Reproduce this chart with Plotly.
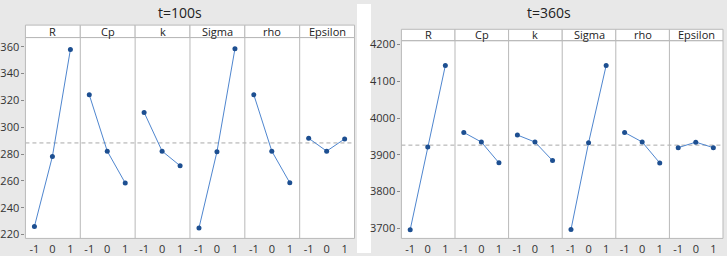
import plotly.graph_objects as go

W, H = 727, 256

factors = ["R", "Cp", "k", "Sigma", "rho", "Epsilon"]
levels = [-1, 0, 1]
level_labels = ["-1", "0", "1"]

# t=100s main effects (means at levels -1, 0, 1)
t100_R = [226.0, 278.2, 358.0]
t100_Cp = [324.2, 282.2, 258.4]
t100_k = [311.1, 282.2, 271.3]
t100_Sigma = [224.9, 281.7, 358.5]
t100_rho = [324.2, 282.2, 258.6]
t100_Epsilon = [291.8, 282.2, 291.3]
t100_mean = 288.3
t100_yticks = [220, 240, 260, 280, 300, 320, 340, 360]

# t=360s main effects
t360_R = [3696.6, 3921.4, 4142.9]
t360_Cp = [3961.0, 3934.9, 3878.3]
t360_k = [3954.0, 3934.9, 3884.4]
t360_Sigma = [3697.0, 3933.0, 4143.0]
t360_rho = [3961.0, 3935.0, 3878.0]
t360_Epsilon = [3919.6, 3934.6, 3919.6]
t360_mean = 3926.5
t360_yticks = [3700, 3800, 3900, 4000, 4100, 4200]

panels = [
    dict(title="t=100s", series=[t100_R, t100_Cp, t100_k, t100_Sigma, t100_rho, t100_Epsilon],
         mean=t100_mean, yticks=t100_yticks, yrange=[217.1, 366.9],
         x0=23.5, x1=353.5, ht=21.7, hb=34.5, bot=241.0, bg=(0, 356)),
    dict(title="t=360s", series=[t360_R, t360_Cp, t360_k, t360_Sigma, t360_rho, t360_Epsilon],
         mean=t360_mean, yticks=t360_yticks, yrange=[3672.8, 4210.6],
         x0=400.5, x1=723.0, ht=26.0, hb=37.7, bot=241.0, bg=(370, 727)),
]

FONT = "Open Sans, Noto Sans, sans-serif"
GRID = "#b9b9b9"
LINE_C = "#4f86cf"
MARK_C = "#1d4f91"


def px(x):
    return x / W


def py(y):
    return 1 - y / H


fig = go.Figure()
layout = dict(
    width=W, height=H,
    margin=dict(l=0, r=0, t=0, b=0),
    paper_bgcolor="#e8e8e8",
    plot_bgcolor="white",
    showlegend=False,
    font=dict(family=FONT, size=11, color="#333333"),
)
shapes = [dict(type="rect", xref="paper", yref="paper", x0=px(356), x1=px(370), y0=0, y1=1,
               fillcolor="white", line=dict(width=0), layer="below")]
annotations = []

for p_i, p in enumerate(panels):
    yname = "y" if p_i == 0 else "y2"
    ykey = "yaxis" if p_i == 0 else "yaxis2"
    sub_w = (p["x1"] - p["x0"]) / 6
    first_x = None
    for f_i, fac in enumerate(factors):
        idx = p_i * 6 + f_i + 1
        xname = "x" if idx == 1 else f"x{idx}"
        xkey = "xaxis" if idx == 1 else f"xaxis{idx}"
        if first_x is None:
            first_x = xname
        a = p["x0"] + f_i * sub_w
        b = a + sub_w
        layout[xkey] = dict(
            domain=[px(a), px(b)], anchor=yname, range=[-1.5, 1.55],
            tickvals=levels, ticktext=level_labels, showgrid=False, zeroline=False,
            showline=False, ticks="", ticklabelstandoff=3, fixedrange=True,
            tickfont=dict(size=11, color="#333333"),
        )
        fig.add_trace(go.Scatter(
            x=levels, y=p["series"][f_i], mode="lines+markers", xaxis=xname, yaxis=yname,
            line=dict(color=LINE_C, width=1), marker=dict(color=MARK_C, size=5),
            hoverinfo="skip",
        ))
        # header cell
        shapes.append(dict(type="rect", xref="paper", yref="paper", x0=px(a), x1=px(b),
                           y0=py(p["hb"]), y1=py(p["ht"]), fillcolor="white",
                           line=dict(color=GRID, width=1)))
        annotations.append(dict(text=fac, xref="paper", yref="paper", x=px((a + b) / 2),
                                y=py((p["ht"] + p["hb"]) / 2), showarrow=False,
                                font=dict(size=11, color="#222222"), xanchor="center",
                                yanchor="middle"))
        # separator
        if f_i > 0:
            shapes.append(dict(type="line", xref="paper", yref="paper", x0=px(a), x1=px(a),
                               y0=py(p["bot"]), y1=py(p["hb"]), line=dict(color=GRID, width=1)))
    layout[ykey] = dict(
        domain=[py(p["bot"]), py(p["hb"])], anchor=first_x, range=p["yrange"],
        tickvals=p["yticks"], showgrid=False, zeroline=False, showline=False,
        ticks="outside", ticklen=3, tickcolor="#888888", fixedrange=True,
        tickfont=dict(size=11, color="#333333"),
    )
    # plot frame
    shapes.append(dict(type="rect", xref="paper", yref="paper", x0=px(p["x0"]), x1=px(p["x1"]),
                       y0=py(p["bot"]), y1=py(p["hb"]), line=dict(color=GRID, width=1)))
    # mean reference line
    shapes.append(dict(type="line", xref="paper", yref=yname, x0=px(p["x0"]), x1=px(p["x1"]),
                       y0=p["mean"], y1=p["mean"],
                       line=dict(color="#a8a8a8", width=1, dash="4px,3px"), layer="below"))
    annotations.append(dict(text=p["title"], xref="paper", yref="paper",
                            x=px((p["bg"][0] + p["bg"][1]) / 2), y=py(8.5), showarrow=False,
                            font=dict(size=14, color="#222222"), xanchor="center",
                            yanchor="middle"))

layout["shapes"] = shapes
layout["annotations"] = annotations
fig.update_layout(**layout)
fig.write_html(
    "out.html",
    config={"displayModeBar": False},
    post_script="document.body.style.margin='0';document.body.style.padding='0';"
                "document.documentElement.style.overflow='hidden';",
)
